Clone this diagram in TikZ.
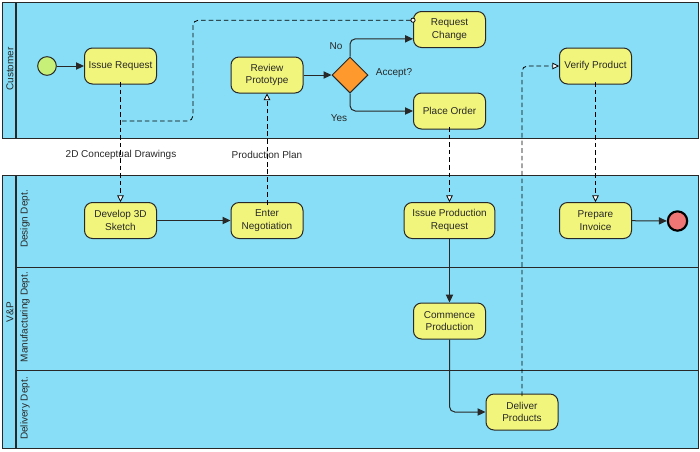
\documentclass[tikz,border=0pt]{standalone}
\usepackage{fontspec}
\setmainfont{Liberation Sans}
\usetikzlibrary{arrows.meta,shapes.geometric}
\definecolor{laneblue}{RGB}{135,222,246}
\definecolor{taskyellow}{RGB}{241,245,123}
\definecolor{gateorange}{RGB}{253,153,45}
\definecolor{startgreen}{RGB}{198,240,120}
\definecolor{endred}{RGB}{240,118,118}
\definecolor{edgegray}{RGB}{40,40,40}
\begin{document}
\begin{tikzpicture}[x=0.75pt, y=-0.75pt,
        font=\fontsize{7.5}{9.6}\selectfont, text=edgegray,
        task/.style={draw=edgegray, fill=taskyellow, rounded corners=6pt, minimum width=54pt, minimum height=27pt, align=center, inner sep=1pt, line width=0.75pt},
        flow/.style={-{Triangle[length=6pt,width=5.5pt]}, edgegray, line width=0.75pt, rounded corners=4pt},
        msgfrom/.style={{Circle[open,fill=white,length=3.8pt]}-, shorten <=-1.9pt, dash pattern=on 3.5pt off 2.2pt, black, line width=0.6pt, rounded corners=4pt},
        msg/.style={msgfrom, -{Triangle[open,fill=white,length=5pt,width=5pt]}},
        lbl/.style={inner sep=1pt}]
        \useasboundingbox (0,0) rectangle (700,451);
        \draw[edgegray, fill=laneblue, line width=0.75pt] (2,2) rectangle (698,138);
        \draw[edgegray, line width=1pt] (16,2) -- (16,138);
        \draw[edgegray, fill=laneblue, line width=0.75pt] (2,175) rectangle (698,448);
        \draw[edgegray, line width=1pt] (16,175) -- (16,448);
        \draw[edgegray, line width=0.75pt] (16,267) -- (698,267);
        \draw[edgegray, line width=0.75pt] (16,370) -- (698,370);
        \node[rotate=90] (custlbl) at (10,69) {Customer};
        \node[rotate=90] (vplbl) at (10,312) {V\&P};
        \node[rotate=90] (deslbl) at (25,219) {Design Dept.};
        \node[rotate=90] (manlbl) at (25,317) {Manufacturing Dept.};
        \node[rotate=90] (dellbl) at (25,408.5) {Delivery Dept.};
        \node[circle, draw=edgegray, fill=startgreen, minimum size=14pt, inner sep=0pt, line width=0.75pt] (start) at (47,66) {};
        \node[task] (ir) at (120.5,66) {Issue Request};
        \node[task] (rp) at (267,75) {Review\\Prototype};
        \node[diamond, draw=edgegray, fill=gateorange, minimum width=27pt, minimum height=27pt, inner sep=0pt, line width=0.75pt] (acc) at (350,75) {};
        \node[task] (rc) at (449.5,29.5) {Request\\Change};
        \node[task] (po) at (449.5,111) {Place Order};
        \node[task] (vp) at (595.5,66) {Verify Product};
        \node[task] (dev) at (120.5,220.5) {Develop 3D\\Sketch};
        \node[task] (neg) at (267,220.5) {Enter\\Negotiation};
        \node[task, minimum width=68pt] (ipr) at (449.5,220.5) {Issue Production\\Request};
        \node[task] (inv) at (595.5,220.5) {Prepare\\Invoice};
        \node[circle, draw=black, fill=endred, minimum size=14.5pt, inner sep=0pt, line width=1.6pt] (end) at (677.5,221) {};
        \node[task] (cp) at (449.5,321) {Commence\\Production};
        \node[task] (dp) at (522,412) {Deliver\\Products};
        \node[lbl] (nolbl) at (336,46) {No};
        \node[lbl] (yeslbl) at (339,118) {Yes};
        \node[lbl] (acclbl) at (394,73) {Accept?};
        \node[lbl] (drawlbl) at (121,155) {2D Conceptual Drawings};
        \node[lbl] (planlbl) at (267,155) {Production Plan};
        \draw[flow] (start) -- (ir);
        \draw[flow] (rp) -- (acc);
        \draw[flow] (acc.north) |- ([yshift=-7pt]rc.west);
        \draw[flow] (acc.south) |- (po.west);
        \draw[flow] (dev) -- (neg);
        \draw[flow] (ipr) -- (cp);
        \draw[flow] (cp.south) |- (dp.west);
        \draw[flow] (inv) -- (end);
        \coordinate (join) at (120.5,121);
        \draw[msg] (ir.south) -- (dev.north);
        \draw[msgfrom] ([yshift=7pt]rc.west) -| (193,121) -- (join);
        \draw[msg] (neg.north) -- (rp.south);
        \draw[msg] (po.south) -- (ipr.north);
        \draw[msg] (dp.north) |- (vp.west);
        \draw[msg] (vp.south) -- (inv.north);
    \end{tikzpicture}
\end{document}
